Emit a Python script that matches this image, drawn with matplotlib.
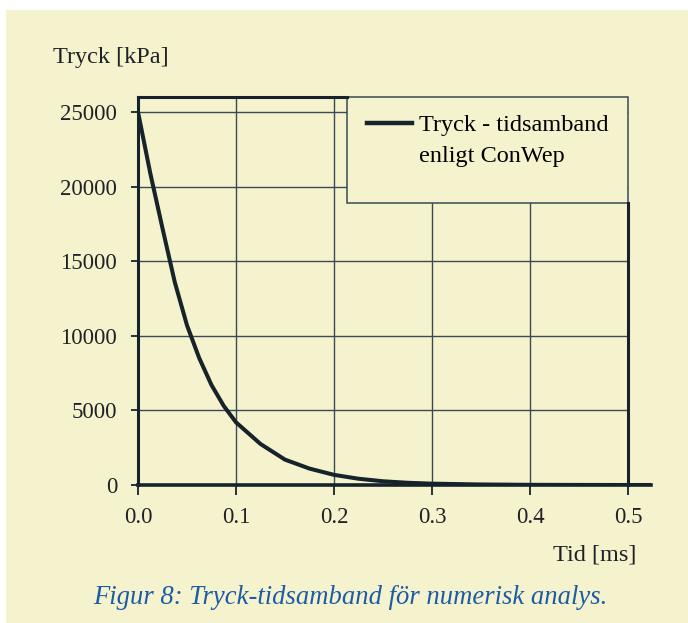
import numpy as np
import matplotlib
matplotlib.use('Agg')
import matplotlib.pyplot as plt
from matplotlib.patches import Rectangle
from matplotlib.lines import Line2D

# Tryck - tidsamband
tid = [0.0, 0.0125, 0.025, 0.0375, 0.05, 0.0625, 0.075, 0.0875, 0.1, 0.125, 0.15, 0.175,
       0.2, 0.225, 0.25, 0.275, 0.3, 0.35, 0.4, 0.45, 0.5, 0.524]
tryck = [25000, 20900, 17200, 13600, 10700, 8500, 6700, 5300, 4200, 2750, 1700, 1100,
         680, 420, 250, 150, 90, 35, 12, 4, 0, 0]
x_ticks = [0.0, 0.1, 0.2, 0.3, 0.4, 0.5]
y_ticks = [0, 5000, 10000, 15000, 20000, 25000]
legend_rows = ['Tryck - tidsamband', 'enligt ConWep']
caption = 'Figur 8: Tryck-tidsamband för numerisk analys.'

bg = '#f5f3cd'
ink = '#16232b'
grid_c = '#3a4a55'
txt = '#1e2226'

plt.rcParams['font.family'] = ['Liberation Serif', 'DejaVu Serif']

fig = plt.figure(figsize=(6.88, 6.23), dpi=100, facecolor='white')
fig.patches.append(Rectangle((6 / 688, 0), 1, 1 - 10 / 623, transform=fig.transFigure,
                             facecolor=bg, edgecolor='none', zorder=-10))

ax = fig.add_axes([138 / 688, 1 - 485 / 623, (651 - 138) / 688, (485 - 97) / 623])
ax.set_facecolor(bg)
xmax, ymax = 0.5235, 26000
ax.set_xlim(0, xmax)
ax.set_ylim(0, ymax)

for s in ax.spines.values():
    s.set_visible(False)

# rutnät (slutar vid 0.5)
ax.hlines(y_ticks[1:], 0, 0.5, colors=grid_c, lw=1.0, zorder=1)
ax.vlines(x_ticks[1:-1], 0, ymax, colors=grid_c, lw=1.0, zorder=1)

# legendruta
leg_x0 = (347 - 138) / (651 - 138) * xmax
leg_y0 = (485 - 203) / (485 - 97) * ymax
ax.add_patch(Rectangle((leg_x0, leg_y0), 0.5 - leg_x0, ymax - leg_y0, facecolor=bg,
                       edgecolor=grid_c, lw=1.1, zorder=2, clip_on=False))

# ram
ax.plot([0, 0], [0, ymax], color=ink, lw=2.2, zorder=3, clip_on=False)
ax.plot([0, xmax], [0, 0], color=ink, lw=2.6, zorder=3, clip_on=False)
ax.plot([0, leg_x0], [ymax, ymax], color=ink, lw=2.2, zorder=3, clip_on=False)
ax.plot([0.5, 0.5], [0, leg_y0], color=ink, lw=2.2, zorder=3, clip_on=False)

line, = ax.plot(tid, tryck, color=ink, lw=2.9, zorder=4)

blank = Line2D([], [], color='none')
leg = ax.legend([line, blank], legend_rows, loc='upper left',
                bbox_to_anchor=(367 / 688, 1 - 114 / 623), bbox_transform=fig.transFigure,
                frameon=False, fontsize=17.5, handlelength=1.85, handletextpad=0.3,
                labelspacing=0.35, borderpad=0, borderaxespad=0)
leg.set_zorder(6)
for h in leg.legend_handles:
    h.set_linewidth(3.2)

ax.set_xticks(x_ticks)
ax.set_xticklabels(['%.1f' % v for v in x_ticks])
ax.set_yticks(y_ticks)
ax.set_yticklabels([str(v) for v in y_ticks])
ax.tick_params(axis='both', colors=ink, labelsize=16.5, width=1.3, direction='out',
               labelcolor=txt)
ax.tick_params(axis='x', length=7, pad=9)
ax.tick_params(axis='y', length=5, pad=10)

fig.text(53 / 688, 1 - 57 / 623, 'Tryck [kPa]', fontsize=17.5, color=txt, va='center')
fig.text(636 / 688, 1 - 555 / 623, 'Tid [ms]', fontsize=17.5, color=txt, va='center', ha='right')
fig.text(93 / 688, 1 - 597 / 623, caption, fontsize=19.2, style='italic', color='#1d5ba7',
         va='center', ha='left')

fig.savefig('out.png', dpi=100, facecolor=fig.get_facecolor())
